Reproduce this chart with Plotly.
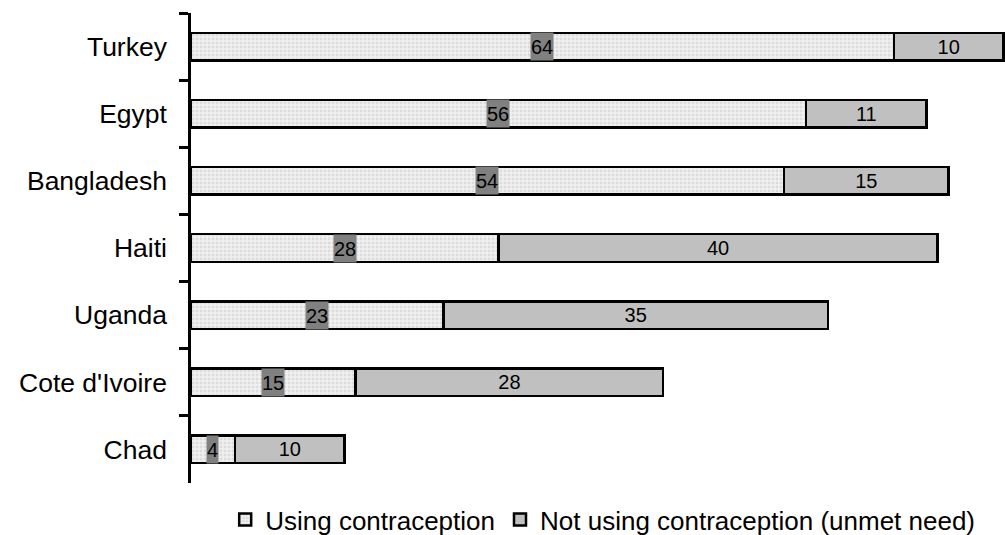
import plotly.graph_objects as go

countries = ["Turkey", "Egypt", "Bangladesh", "Haiti", "Uganda", "Cote d'Ivoire", "Chad"]
using = [64, 56, 54, 28, 23, 15, 4]
unmet = [10, 11, 15, 40, 35, 28, 10]

FONT = "Liberation Sans, Arial, sans-serif"

fig = go.Figure()
fig.add_trace(go.Bar(
    y=countries, x=using, orientation="h", name="Using contraception",
    marker=dict(color="#efefef", line=dict(color="black", width=2.5),
                pattern=dict(shape=".", fgcolor="#c8c8c8", bgcolor="#f0f0f0", size=4, solidity=0.4)),
    hoverinfo="x+y",
))
fig.add_trace(go.Bar(
    y=countries, x=unmet, orientation="h", name="Not using contraception (unmet need)",
    marker=dict(color="#c0c0c0", line=dict(color="black", width=2.5)),
    text=[str(v) for v in unmet], textposition="inside", insidetextanchor="middle",
    textangle=0, constraintext="none",
    textfont=dict(family=FONT, size=20, color="black"),
))

for c, v in zip(countries, using):
    fig.add_annotation(x=v / 2, y=c, xref="x", yref="y", text=str(v), showarrow=False,
                       font=dict(family=FONT, size=20, color="black"),
                       bgcolor="#808080", borderpad=0, height=27)

fig.update_layout(
    barmode="stack", bargap=0.59,
    width=1005, height=535,
    margin=dict(l=191, r=0, t=13, b=52, autoexpand=False),
    paper_bgcolor="white", plot_bgcolor="white",
    font=dict(family=FONT, color="black"),
    showlegend=True,
    legend=dict(orientation="h", x=0.042, xanchor="left", y=-0.028, yanchor="top",
                font=dict(family=FONT, size=26, color="black"), traceorder="normal",
                itemwidth=30),
)
fig.update_xaxes(range=[0, 74.13], showgrid=False, zeroline=False, showticklabels=False,
                 showline=False, ticks="", automargin=False)
fig.update_yaxes(range=[6.5, -0.5], showline=True, linecolor="black", linewidth=2.5,
                 ticks="outside", tickson="boundaries", ticklen=9, tickwidth=2.5, tickcolor="black",
                 tickfont=dict(family=FONT, size=26.5, color="black"), ticklabelstandoff=16,
                 showgrid=False, zeroline=False, automargin=False)

fig.write_html("out.html", config={"displayModeBar": False},
               post_script="document.body.style.margin='0';document.body.style.overflow='hidden';")
